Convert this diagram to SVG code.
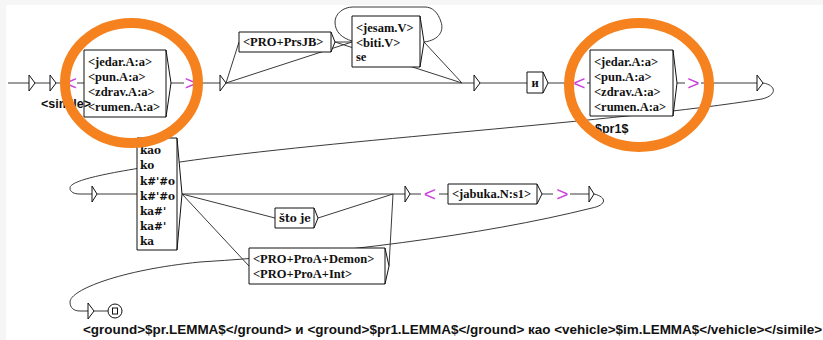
<svg xmlns="http://www.w3.org/2000/svg" width="823" height="340" viewBox="0 0 823 340">
<defs>
<style>
.ln{fill:none;stroke:#3a3a3a;stroke-width:1}
.box{fill:#fff;stroke:#111;stroke-width:1}
.tri{fill:#fff;stroke:#111;stroke-width:1}
.bt{font-family:"Liberation Serif",serif;font-weight:bold;font-size:12.5px;fill:#111}
.kt{font-family:"DejaVu Serif",serif;font-weight:bold;font-size:10.5px;fill:#111}
.st{font-family:"Liberation Sans",sans-serif;font-weight:bold;font-size:12.5px;fill:#111}
.mg{font-family:"Liberation Sans",sans-serif;font-size:21px;fill:#cc44dd;text-anchor:middle}
.oc{fill:none;stroke:#f5821f;stroke-width:10}
</style>
</defs>
<rect x="0" y="0" width="823" height="340" fill="#f6f6f6"/>
<rect x="6" y="5" width="817" height="335" fill="#fff"/>

<g id="connectors">
<path class="ln" d="M8,83 H29 M35,83 H50 M56,83 H66 M77,83 H84 M171,83 H184 M198,83 H220"/>
<path class="ln" d="M226,83 H474 M226,83 L239,42 M226,83 L352,42 M335,42 L352,42 M335,42 L462,83 M424,42 L462,83"/>
<path class="ln" d="M424,42 C440,40 444,30 441,22 C438,12 432,7 425,7 L353,7 C343,7 335,14 335,22 C335,32 342,38 352,41"/>
<path class="ln" d="M480,83 H527 M548,83 H570 M587,83 H590 M677,83 H685 M701,83 H757"/>
<path class="ln" d="M763,83 C776,85 778,95 762,99 C620,122 330,140 180,162 C110,172 70,180 70,188 C70,192 74,194 80,194 L92,194"/>
<path class="ln" d="M97,194 H137 M182,194 H405 M182,194 L275,218 M182,194 L249,266 M318,218 L393,194 M389,266 L393,194"/>
<path class="ln" d="M410,194 H421 M439,194 H448 M542,194 H553 M570,194 H589"/>
<path class="ln" d="M594,194 C607,197 607,205 592,208 C480,236 330,254 200,262 C120,270 70,290 70,302 C70,308 74,311 80,311 L88,311 M94,311 H108"/>
</g>

<g id="n-init1"><polygon class="tri" points="29,75 29,91 35,83"/></g>
<g id="n-init2"><polygon class="tri" points="50,75 50,91 56,83"/></g>
<g id="n-lt1"><text class="mg" x="71" y="90">&lt;</text></g>
<g id="n-adj1">
<path class="box" d="M84,50 H166 V117 H84 Z M166,50 L171,83 L166,117"/>
<text class="bt" x="88" y="66">&lt;jedar.A:a&gt;</text>
<text class="bt" x="88" y="81">&lt;pun.A:a&gt;</text>
<text class="bt" x="88" y="96">&lt;zdrav.A:a&gt;</text>
<text class="bt" x="88" y="111">&lt;rumen.A:a&gt;</text>
</g>
<g id="n-simile"><text class="st" x="41" y="108">&lt;simile&gt;</text></g>
<g id="n-gt1"><text class="mg" x="191" y="90">&gt;</text></g>
<g id="n-s3"><polygon class="tri" points="220,75 220,91 226,83"/></g>
<g id="n-prs">
<path class="box" d="M239,32 H331 V52 H239 Z M331,32 L335,42 L331,52"/>
<text class="bt" x="243" y="46">&lt;PRO+PrsJB&gt;</text>
</g>
<g id="n-verb">
<path class="box" d="M352,16 H420 V67 H352 Z M420,16 L424,42 L420,67"/>
<text class="bt" x="356" y="32">&lt;jesam.V&gt;</text>
<text class="bt" x="356" y="47">&lt;biti.V&gt;</text>
<text class="bt" x="356" y="61">se</text>
</g>
<g id="n-s4"><polygon class="tri" points="474,75 474,91 480,83"/></g>
<g id="n-i">
<path class="box" d="M527,72 H543 V93 H527 Z M543,72 L548,83 L543,93"/>
<text class="bt" x="535" y="87" text-anchor="middle">и</text>
</g>
<g id="n-lt2"><text class="mg" x="579.5" y="90">&lt;</text></g>
<g id="n-adj2">
<path class="box" d="M590,50 H673 V116 H590 Z M673,50 L677,83 L673,116"/>
<text class="bt" x="594" y="66">&lt;jedar.A:a&gt;</text>
<text class="bt" x="594" y="81">&lt;pun.A:a&gt;</text>
<text class="bt" x="594" y="96">&lt;zdrav.A:a&gt;</text>
<text class="bt" x="594" y="111">&lt;rumen.A:a&gt;</text>
</g>
<g id="n-pr1"><text class="st" x="595" y="133">$pr1$</text></g>
<g id="n-gt2"><text class="mg" x="693.5" y="90">&gt;</text></g>
<g id="n-s5"><polygon class="tri" points="757,75 757,91 763,83"/></g>

<g id="n-s6"><polygon class="tri" points="92,186 92,202 97,194"/></g>
<g id="n-kao">
<path class="box" d="M137,138 H177 V250 H137 Z M177,138 L182,194 L177,250"/>
<text class="kt" x="140" y="154">kao</text>
<text class="kt" x="140" y="169">ko</text>
<text class="kt" x="140" y="185">k#'#o</text>
<text class="kt" x="140" y="200">k#'#o</text>
<text class="kt" x="140" y="215">ka#'</text>
<text class="kt" x="140" y="230">ka#'</text>
<text class="kt" x="140" y="245">ka</text>
</g>
<g id="n-stoje">
<path class="box" d="M275,208 H314 V228 H275 Z M314,208 L318,218 L314,228"/>
<text class="kt" x="279" y="222">što je</text>
</g>
<g id="n-proa">
<path class="box" d="M249,248 H385 V284 H249 Z M385,248 L389,266 L385,284"/>
<text class="bt" x="253" y="263">&lt;PRO+ProA+Demon&gt;</text>
<text class="bt" x="253" y="278">&lt;PRO+ProA+Int&gt;</text>
</g>
<g id="n-s7"><polygon class="tri" points="405,186 405,202 410,194"/></g>
<g id="n-lt3"><text class="mg" x="430" y="201">&lt;</text></g>
<g id="n-jabuka">
<path class="box" d="M448,184 H537 V204 H448 Z M537,184 L542,194 L537,204"/>
<text class="bt" x="452" y="198">&lt;jabuka.N:s1&gt;</text>
</g>
<g id="n-gt3"><text class="mg" x="562.5" y="201">&gt;</text></g>
<g id="n-s8"><polygon class="tri" points="589,186 589,202 594,194"/></g>

<g id="n-s9"><polygon class="tri" points="88,303 88,319 94,311"/></g>
<g id="n-final">
<circle cx="115" cy="311" r="7" fill="#fff" stroke="#111" stroke-width="1"/>
<rect x="112.5" y="308" width="5" height="6" fill="#fff" stroke="#111" stroke-width="1"/>
</g>
<g id="n-output"><text class="st" x="83" y="334" textLength="739" lengthAdjust="spacingAndGlyphs">&lt;ground&gt;$pr.LEMMA$&lt;/ground&gt; и &lt;ground&gt;$pr1.LEMMA$&lt;/ground&gt; као &lt;vehicle&gt;$im.LEMMA$&lt;/vehicle&gt;&lt;/simile&gt;</text></g>

<g id="highlights">
<ellipse class="oc" cx="131.5" cy="83" rx="66.5" ry="60"/>
<ellipse class="oc" cx="639" cy="85" rx="70" ry="62"/>
</g>
</svg>
